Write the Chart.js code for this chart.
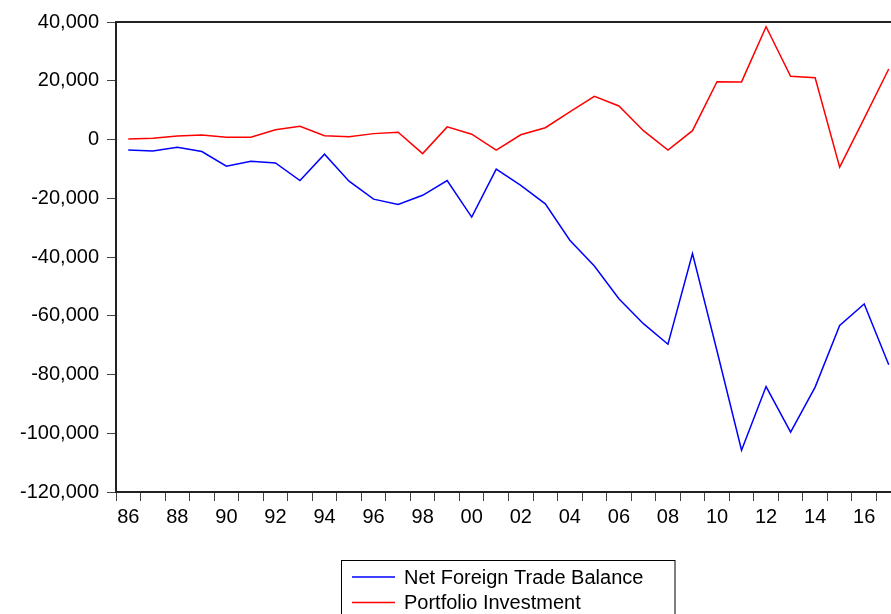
<!DOCTYPE html>
<html>
<head>
<meta charset="utf-8">
<script src="https://cdn.jsdelivr.net/npm/chart.js@4/dist/chart.umd.min.js"></script>
<style>
    html, body { margin: 0; padding: 0; background: #fff; overflow: hidden; }
    canvas { display: block; }
</style>
</head>
<body>
<canvas id="grafica" width="905" height="614"></canvas>
<script>
// años (dos digitos), 1986 - 2017
var anios = ['86','87','88','89','90','91','92','93','94','95','96','97','98','99','00','01',
             '02','03','04','05','06','07','08','09','10','11','12','13','14','15','16','17']

var balanzaComercial = [-3600, -3900, -2600, -4100, -9100, -7400, -8000, -14000, -5000, -14200,
                        -20300, -22100, -19000, -14000, -26400, -10100, -15600, -21900, -34300, -43100,
                        -54200, -62700, -69700, -38800, -72000, -105800, -84100, -99600, -84300, -63300,
                        -56000, -76700]

var inversionCartera = [200, 400, 1200, 1500, 800, 800, 3300, 4500, 1300, 900,
                        2000, 2500, -4800, 4300, 1800, -3600, 1600, 4000, 9400, 14700,
                        11400, 3000, -3600, 3000, 19700, 19600, 38400, 21500, 21000, -9400,
                        7200, 24000]

var marcasY = [-120000, -100000, -80000, -60000, -40000, -20000, 0, 20000, 40000]

var series = ['Net Foreign Trade Balance', 'Portfolio Investment']
var colores = ['#0000ff', '#ff0000']

Chart.defaults.font.family = '"Liberation Sans", Arial, sans-serif'
Chart.defaults.font.size = 20
Chart.defaults.color = '#000'

// marco superior y leyenda con caja, estilo EViews
var marcoYLeyenda = {
    id: 'marcoYLeyenda',
    afterDraw: function (chart) {
        var ctx = chart.ctx
        var area = chart.chartArea
        ctx.save()
        ctx.strokeStyle = '#222'
        ctx.lineWidth = 2
        ctx.beginPath()
        ctx.moveTo(area.left, area.top)
        ctx.lineTo(area.right, area.top)
        ctx.lineTo(area.right, area.bottom)
        ctx.stroke()

        // caja de la leyenda
        ctx.lineWidth = 1
        ctx.strokeStyle = '#000'
        ctx.strokeRect(341.5, 560.5, 333.5, 80)

        ctx.font = '20px "Liberation Sans", Arial, sans-serif'
        ctx.fillStyle = '#000'
        ctx.textBaseline = 'alphabetic'
        chart.data.datasets.forEach(function (ds, i) {
            var y = 577 + i * 25.5
            ctx.strokeStyle = ds.borderColor
            ctx.lineWidth = 1.5
            ctx.beginPath()
            ctx.moveTo(352, y)
            ctx.lineTo(395, y)
            ctx.stroke()
            ctx.fillText(ds.label, 404, y + 6.5)
        })
        ctx.restore()
    }
}

function generarGrafica() {
    var graf = new Chart('grafica', {
        type: 'line',
        data: {
            labels: anios,
            datasets: [{
                label: series[0],
                data: balanzaComercial,
                borderColor: colores[0],
                borderWidth: 1.5,
                pointRadius: 0,
                tension: 0,
                fill: false
            }, {
                label: series[1],
                data: inversionCartera,
                borderColor: colores[1],
                borderWidth: 1.5,
                pointRadius: 0,
                tension: 0,
                fill: false
            }]
        },
        options: {
            responsive: false,
            animation: false,
            layout: { padding: { top: 22, right: 4, left: 0, bottom: 0 } },
            plugins: {
                legend: { display: false },
                tooltip: { enabled: false }
            },
            scales: {
                x: {
                    type: 'category',
                    offset: true,
                    afterFit: function (s) { s.height = 122 },
                    grid: {
                        offset: true,
                        drawOnChartArea: false,
                        drawTicks: true,
                        tickLength: 9,
                        color: '#444',
                        lineWidth: 1
                    },
                    border: { display: true, color: '#222', width: 2 },
                    ticks: {
                        autoSkip: false,
                        maxRotation: 0,
                        padding: 4,
                        callback: function (v, i) { return i % 2 === 0 ? anios[i] : '' }
                    }
                },
                y: {
                    min: marcasY[0],
                    max: marcasY[marcasY.length - 1],
                    afterFit: function (s) { s.width = 116 },
                    grid: {
                        drawOnChartArea: false,
                        drawTicks: true,
                        tickLength: 9,
                        color: '#444',
                        lineWidth: 1
                    },
                    border: { display: true, color: '#222', width: 2 },
                    ticks: {
                        stepSize: marcasY[1] - marcasY[0],
                        padding: 8,
                        callback: function (v) { return v.toLocaleString('en-US') }
                    }
                }
            }
        },
        plugins: [marcoYLeyenda]
    })
    return graf
}

generarGrafica()
</script>
</body>
</html>
